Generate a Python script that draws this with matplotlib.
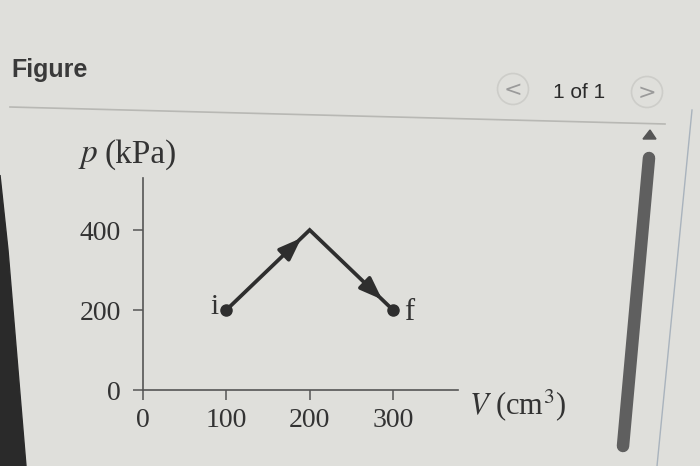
import matplotlib
matplotlib.use('Agg')
import matplotlib.pyplot as plt
from matplotlib.patches import Circle, Polygon
from matplotlib.lines import Line2D

# process path on the p-V diagram
volume = [100, 200, 300]      # cm^3
pressure = [200, 400, 200]    # kPa
point_names = ['i', 'f']
x_ticks = [0, 100, 200, 300]
y_ticks = [0, 200, 400]

bg = '#dfdfdb'
ink = '#2e2e2e'
serif = 'Liberation Serif'

fig = plt.figure(figsize=(7, 4.66), dpi=100)
fig.patch.set_facecolor(bg)

W, H = 700, 466
def fx(px):
    return px / W
def fy(py):
    return 1 - py / H

# header bits of the page
fig.text(fx(11), fy(70), 'Figure', fontsize=18, fontweight='bold',
         family='Liberation Sans', color='#3a3a3a', va='center', ha='left')
fig.text(fx(579), fy(92), '1 of 1', fontsize=15, family='Liberation Sans',
         color='#2a2a2a', va='center', ha='center')
for cx, cy, sym in [(513, 89, '<'), (647, 92, '>')]:
    fig.patches.append(Circle((cx / 100, (H - cy) / 100), 0.155,
                              transform=fig.dpi_scale_trans,
                              facecolor='none', edgecolor='#cdcdc9', lw=1.2))
    fig.text(fx(cx), fy(cy + 1), sym, fontsize=16, color='#9a9a9a',
             family='DejaVu Sans', va='center', ha='center')
fig.add_artist(Line2D([fx(10), fx(665)], [fy(107), fy(124)], color='#b8b8b4', lw=1.2))

# scroll bar and right edge
fig.add_artist(Line2D([fx(649), fx(623)], [fy(158), fy(446)], color='#5f5f5f',
                      lw=9, solid_capstyle='round'))
fig.patches.append(Polygon([[fx(643), fy(139)], [fx(656), fy(139)], [fx(650), fy(130)]],
                           closed=True, transform=fig.transFigure, color='#555555'))
fig.add_artist(Line2D([fx(692), fx(657)], [fy(110), fy(466)], color='#a9b3bd', lw=1))

# dark photo edge on the left
fig.patches.append(Polygon([[0, fy(175)], [fx(8), fy(250)], [fx(26), fy(466)], [0, fy(466)]],
                           closed=True, transform=fig.transFigure, color='#2a2a2a'))

# the diagram itself
ax = fig.add_axes([fx(143), fy(390), fx(458) - fx(143), fy(178) - fy(390)])
ax.set_facecolor('none')
ax.set_xlim(0, 378)
ax.set_ylim(0, 530)
for s in ['top', 'right']:
    ax.spines[s].set_visible(False)
for s in ['left', 'bottom']:
    ax.spines[s].set_color('#555555')
    ax.spines[s].set_linewidth(1.2)
ax.set_xticks(x_ticks)
ax.set_yticks(y_ticks)
ax.tick_params(direction='out', length=7, width=1.1, color='#555555',
               labelsize=20, labelcolor='#333333')
ax.tick_params(axis='y', pad=9)
ax.tick_params(axis='x', pad=6)
for lab in ax.get_xticklabels() + ax.get_yticklabels():
    lab.set_family(serif)

ax.plot(volume, pressure, color=ink, lw=2.7, solid_joinstyle='miter', zorder=3)
ax.plot([volume[0], volume[-1]], [pressure[0], pressure[-1]], 'o', color=ink,
        ms=8, zorder=4)

# arrow heads along both legs
for k, frac in [(0, 0.9), (1, 0.87)]:
    x0, y0 = volume[k], pressure[k]
    x1, y1 = volume[k + 1], pressure[k + 1]
    tip = (x0 + frac * (x1 - x0), y0 + frac * (y1 - y0))
    tail = (x0 + (frac - 0.1) * (x1 - x0), y0 + (frac - 0.1) * (y1 - y0))
    ax.annotate('', xy=tip, xytext=tail,
                arrowprops=dict(arrowstyle='-|>,head_length=1.35,head_width=0.5',
                                color=ink, lw=2.7, shrinkA=0, shrinkB=0))

ax.text(volume[0] - 9, pressure[0] + 8, point_names[0], fontsize=21, family=serif,
        color='#333333', ha='right', va='center')
ax.text(volume[-1] + 13, pressure[-1] - 5, point_names[1], fontsize=22, family=serif,
        color='#333333', ha='left', va='center')

fig.text(fx(78), fy(156), r'$p$', fontsize=24, family=serif, color='#333333',
         va='center', ha='left', math_fontfamily='stix')
fig.text(fx(105), fy(155), '(kPa)', fontsize=24, family=serif, color='#333333',
         va='center', ha='left')
fig.text(fx(469), fy(405), r'$V$ (cm$^3$)', fontsize=22, family=serif,
         color='#333333', va='center', ha='left', math_fontfamily='stix')

fig.savefig('out.png', dpi=100, facecolor=bg)
